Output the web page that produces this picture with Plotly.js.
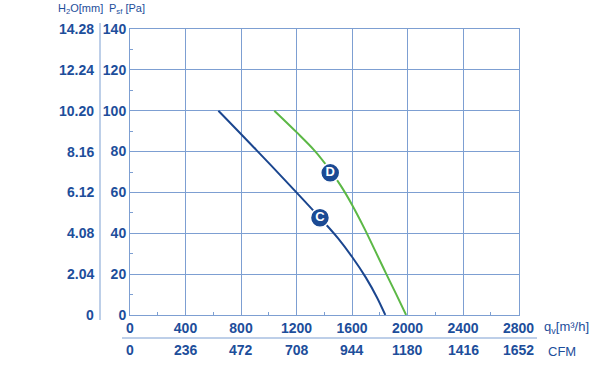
<!DOCTYPE html>
<html>
<head>
<meta charset="utf-8">
<script src="https://cdn.plot.ly/plotly-3.0.1.min.js"></script>
<style>html,body{margin:0;padding:0;background:#fff;}#chart{width:614px;height:375px;}</style>
</head>
<body>
<div id="chart"></div>
<script>
// ---- data ----
const curveC_q = [637, 913, 1196, 1369, 1500, 1600, 1700, 1780, 1840];
const curveC_p = [100, 80.6, 60.3, 47.6, 37.5, 28.5, 18.3, 8.6, 0];
const curveD_q = [1040, 1200, 1330, 1430, 1520, 1600, 1690, 1770, 1845, 1920, 1990];
const curveD_p = [100, 89.5, 80.5, 72, 63.2, 54, 42.3, 31, 20.4, 10, 0];
const labelNames = ['C', 'D'];
const labelQ = [1369, 1443];
const labelP = [47.6, 69.6];
const paTicks = [0, 20, 40, 60, 80, 100, 120, 140];
const mmTickText = ['0', '2.04', '4.08', '6.12', '8.16', '10.20', '12.24', '14.28'];
const qTicks = [0, 400, 800, 1200, 1600, 2000, 2400, 2800];
const cfmTickText = ['0', '236', '472', '708', '944', '1180', '1416', '1652'];

// ---- layout helpers (pixel -> paper) ----
const W = 614, H = 375, ML = 90, MR = 74, MT = 20, MB = 20;
const PW = W - ML - MR, PH = H - MT - MB;
const xp = px => (px - ML) / PW;
const yp = py => (H - MB - py) / PH;
const xL = 130, xR = 518.5, yT = 29, yB = 315;

const TXT = '#1d4e9b';
const GRID = '#7d9fd2';
const FONT = 'Liberation Sans, Arial, sans-serif';
const TICKFONT = {family: FONT, size: 14, color: TXT, weight: 'bold'};

const traces = [
  {x: curveC_q, y: curveC_p, mode: 'lines', line: {color: '#1b468f', width: 2, shape: 'spline', smoothing: 1}, hoverinfo: 'skip'},
  {x: curveD_q, y: curveD_p, mode: 'lines', line: {color: '#5cb846', width: 2, shape: 'spline', smoothing: 1}, hoverinfo: 'skip'},
  {x: labelQ, y: labelP, text: labelNames, mode: 'markers+text', textposition: 'middle center',
   marker: {size: 19, color: '#1b4a94', line: {color: '#ffffff', width: 1.5}},
   textfont: {family: FONT, size: 13, color: '#ffffff', weight: 'bold'}, hoverinfo: 'skip'}
];

const annotations = [];
paTicks.forEach((v, i) => {
  annotations.push({xref: 'paper', yref: 'y', x: xp(96), y: v, text: mmTickText[i], showarrow: false,
    xanchor: 'right', yanchor: 'middle', font: TICKFONT});
});
qTicks.forEach((v, i) => {
  annotations.push({xref: 'x', yref: 'paper', x: v, y: yp(350), text: cfmTickText[i], showarrow: false,
    xanchor: 'center', yanchor: 'middle', font: TICKFONT});
});
annotations.push({xref: 'paper', yref: 'paper', x: xp(56), y: yp(9), text: 'H<sub>2</sub>O[mm]', showarrow: false,
  xanchor: 'left', yanchor: 'middle', font: {family: FONT, size: 11, color: TXT}});
annotations.push({xref: 'paper', yref: 'paper', x: xp(107), y: yp(9), text: 'P<sub>sf</sub> [Pa]', showarrow: false,
  xanchor: 'left', yanchor: 'middle', font: {family: FONT, size: 11, color: TXT}});
annotations.push({xref: 'paper', yref: 'paper', x: xp(542), y: yp(327), text: 'q<sub>v</sub>[m³/h]', showarrow: false,
  xanchor: 'left', yanchor: 'middle', font: {family: FONT, size: 13, color: TXT}});
annotations.push({xref: 'paper', yref: 'paper', x: xp(546), y: yp(351), text: 'CFM', showarrow: false,
  xanchor: 'left', yanchor: 'middle', font: {family: FONT, size: 13, color: TXT}});

const shapes = [
  {type: 'line', xref: 'paper', yref: 'paper', x0: xp(100), x1: xp(100), y0: yp(23), y1: yp(320), line: {color: GRID, width: 1}},
  {type: 'line', xref: 'paper', yref: 'paper', x0: xp(122), x1: xp(537), y0: yp(338), y1: yp(338), line: {color: GRID, width: 1}}
];

const layout = {
  width: W, height: H,
  margin: {l: ML, r: MR, t: MT, b: MB, pad: 0},
  paper_bgcolor: '#ffffff', plot_bgcolor: '#ffffff',
  showlegend: false,
  xaxis: {domain: [xp(xL), xp(xR)], range: [0, 2800], tickvals: qTicks, ticks: '', showgrid: true, gridcolor: GRID, gridwidth: 1,
    zeroline: false, showline: true, linecolor: GRID, linewidth: 1, mirror: true,
    tickfont: TICKFONT, fixedrange: true,
    minor: {ticks: 'inside', ticklen: 3, tickcolor: GRID, tick0: 200, dtick: 400, showgrid: false}},
  yaxis: {domain: [yp(yB), yp(yT)], range: [0, 140], tickvals: paTicks, ticks: '', showgrid: true, gridcolor: GRID, gridwidth: 1,
    zeroline: false, showline: true, linecolor: GRID, linewidth: 1, mirror: true,
    tickfont: TICKFONT, fixedrange: true,
    minor: {ticks: 'inside', ticklen: 3, tickcolor: GRID, tick0: 10, dtick: 20, showgrid: false}},
  annotations: annotations,
  shapes: shapes
};

Plotly.newPlot('chart', traces, layout, {displayModeBar: false, staticPlot: true});
</script>
</body>
</html>
